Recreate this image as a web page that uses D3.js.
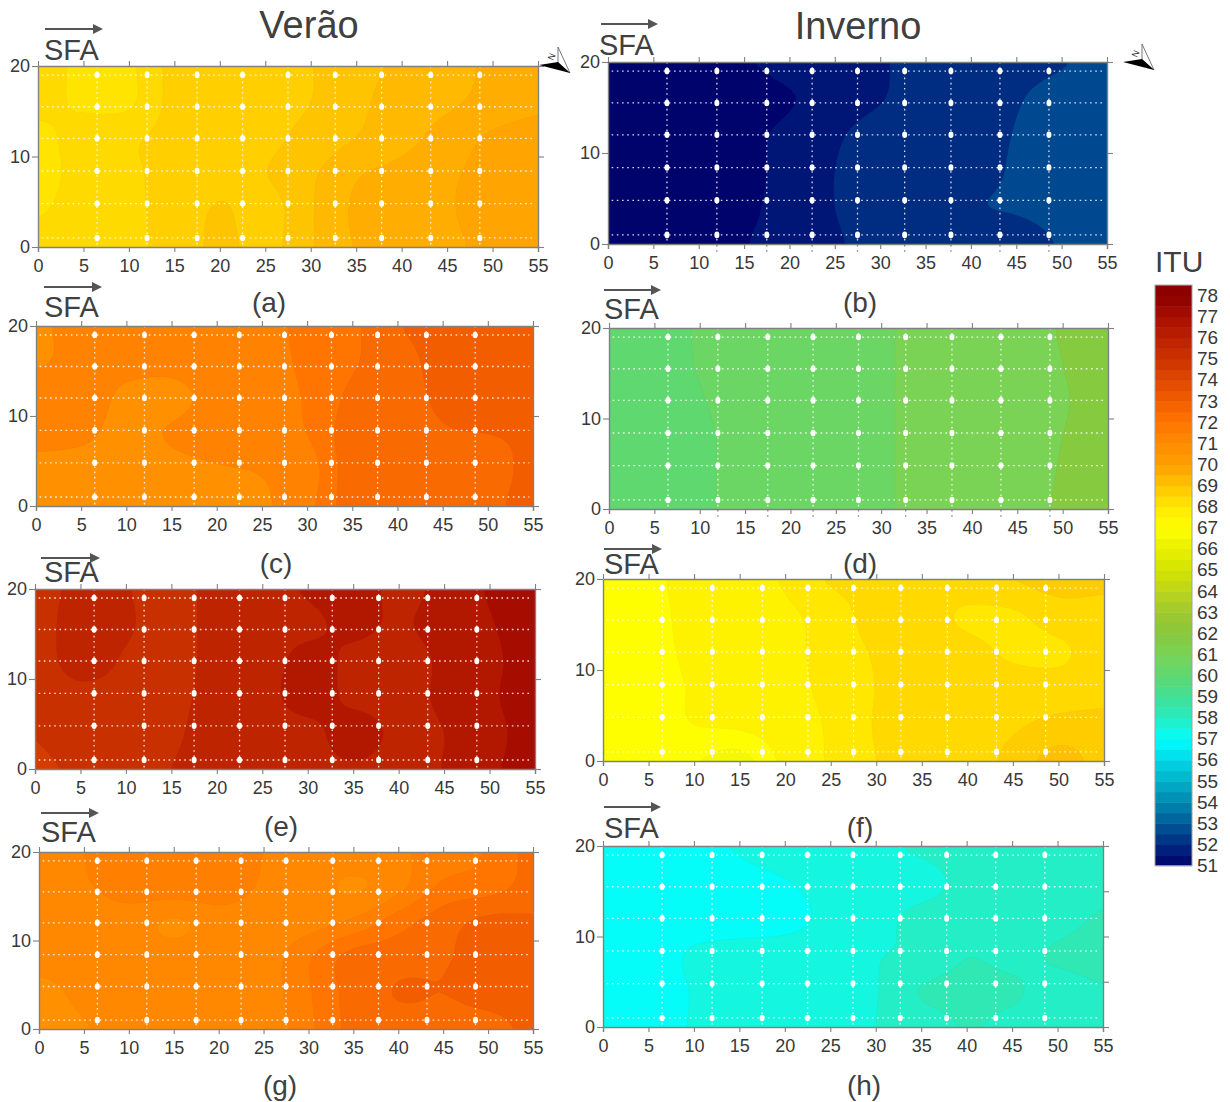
<!DOCTYPE html>
<html><head><meta charset="utf-8">
<script src="https://cdn.jsdelivr.net/npm/d3@7/dist/d3.min.js"></script>
<style>html,body{margin:0;padding:0;background:#fff}svg{display:block}text{font-family:"Liberation Sans",Arial,sans-serif}</style>
</head><body><script>
// ---------- data (ITU; rows run y = 20,16,12,8,4,0; columns x = 0,5,...,55)
const gridX = d3.range(0, 56, 5);
const gridY = [20, 16, 12, 8, 4, 0];
const stationX = [6.5, 12, 17.5, 22.5, 27.5, 32.7, 37.8, 43.2, 48.6];
const stationY = [1, 4.8, 8.4, 12, 15.5, 19];
const xTicks = d3.range(0, 56, 5);
const yTicks = [0, 10, 20];
const legendValues = d3.range(51, 79);

const itu_a = [
[68.35,68.2,68.2,68.65,68.7,68.76,68.84,69.06,69.2,69.35,69.5,69.6],
[68.35,68.2,68.2,68.65,68.7,68.76,68.85,69.08,69.28,69.4,69.55,69.68],
[68.15,68.4,68.5,68.65,68.7,68.78,68.95,69.16,69.35,69.58,69.8,69.88],
[68.1,68.4,68.5,68.65,68.75,68.84,69.1,69.42,69.55,69.7,69.85,69.9],
[68.22,68.42,68.5,68.65,68.88,68.72,69.12,69.5,69.62,69.72,69.88,69.92],
[68.4,68.44,68.5,68.65,68.92,68.75,69.12,69.47,69.62,69.68,69.85,69.92]];
const levels_a = [68.25,68.55,68.85,69.15,69.45,69.75];

const itu_b = [
[51,51.02,51.05,51.25,51.45,51.55,51.7,51.95,52.05,52.15,52.3,52.7],
[51,51.02,51.05,51.1,51.27,51.5,51.72,52,52.1,52.3,52.6,52.75],
[51,51.02,51.05,51.2,51.4,51.68,51.95,52.05,52.1,52.38,52.65,52.75],
[51,51.02,51.05,51.2,51.42,51.75,52,52.05,52.15,52.42,52.65,52.75],
[51,51.02,51.05,51.22,51.45,51.75,51.95,52.05,52.3,52.4,52.55,52.7],
[51,51.02,51.05,51.28,51.45,51.7,51.9,52,52.05,52.1,52.4,52.65]];
const levels_b = [51.3,51.75,52.35];

const itu_c = [
[71,71.3,71.35,71.4,71.45,71.55,71.9,72.1,72.7,73,73.05,73],
[71.05,71.25,71.25,71.25,71.4,71.55,71.85,72.15,72.5,72.95,73,72.95],
[71.4,71.35,71,70.95,71.3,71.5,71.8,72.3,72.5,72.85,72.95,72.85],
[71.3,71.2,70.95,71.15,71.4,71.55,71.75,72.45,72.5,72.7,72.75,72.8],
[70.9,70.9,70.85,70.95,71.05,71.15,71.5,72.45,72.45,72.55,72.6,72.85],
[70.85,70.85,70.85,70.9,70.95,71,71.6,72.45,72.45,72.55,72.65,72.9]];
const levels_c = [71.1,71.75,72.2,72.75];

const itu_d = [
[60,60.1,60.28,60.38,60.5,60.6,60.72,60.82,60.95,61.15,61.55,61.75],
[60,60.1,60.27,60.38,60.5,60.6,60.72,60.82,60.95,61.15,61.5,61.75],
[60,60.1,60.23,60.38,60.5,60.6,60.72,60.82,60.95,61.15,61.45,61.75],
[60,60.1,60.2,60.35,60.5,60.6,60.72,60.82,60.95,61.15,61.5,61.75],
[60,60.1,60.2,60.35,60.5,60.6,60.72,60.82,60.95,61.15,61.55,61.75],
[60,60.1,60.2,60.35,60.5,60.6,60.72,60.82,60.95,61.15,61.6,61.75]];
const levels_d = [60.25,60.75,61.5];

const itu_e = [
[75.2,75.6,75.47,75.3,75.6,75.85,76.15,76.3,76,76.25,76.8,77],
[75.2,75.7,75.5,75.3,75.6,75.85,76,76.2,76.05,76.3,76.7,77.05],
[75.2,75.65,75.4,75.3,75.6,75.85,76.25,76,75.9,76.2,76.6,77.05],
[75.15,75.3,75.3,75.35,75.6,75.9,76.3,76,75.95,76.2,76.65,77.05],
[74.9,75.25,75.3,75.4,75.6,75.85,75.95,76.3,76,76.1,76.55,77],
[74.7,75,75.25,75.45,75.55,75.9,75.95,76.05,75.95,76.12,76.65,76.95]];
const levels_e = [74.85,75.45,76.1,76.75];

const itu_f = [
[67,67.2,67.45,67.6,67.85,68.3,68.4,68.4,68.45,68.6,68.75,68.7],
[67,67.15,67.45,67.6,67.72,68,68.45,68.4,68.2,68.2,68.42,68.45],
[67,67.15,67.4,67.6,67.7,67.95,68.3,68.4,68.35,68.2,68.2,68.4],
[67,67.1,67.35,67.6,67.7,67.9,68.26,68.38,68.4,68.4,68.4,68.45],
[67.05,67.1,67.3,67.4,67.65,67.85,68.28,68.4,68.45,68.55,68.7,68.72],
[67.05,67.1,66.85,66.6,67.45,67.85,68.25,68.4,68.45,68.7,69.1,68.8]];
const levels_f = [66.8,67.3,67.8,68.25,68.6,68.95];

const itu_g = [
[71.1,71.35,71.5,71.55,71.55,71.35,71.3,71.2,71.3,71.5,71.8,72.35],
[71.1,71.3,71.5,71.55,71.55,71.3,71.15,70.9,71.25,71.85,72,72.4],
[71.05,71.1,71.15,70.9,71.15,71.15,71.2,71.45,72,72.5,72.9,72.85],
[71.1,71.1,71.1,71.12,71.15,71.15,71.7,72.4,72.55,72.7,72.95,72.95],
[70.8,71.05,71.1,71.12,71.15,71.15,71.7,72.4,72.78,72.75,72.9,72.95],
[70.7,70.92,71.1,71.1,71.15,71.05,71.65,72.35,72.5,72.55,72.6,72.85]];
const levels_g = [70.95,71.35,71.75,72.2,72.75];

const itu_h = [
[57.05,57.05,57.1,57.35,57.5,57.5,57.62,57.75,57.85,57.9,57.95,57.98],
[57.05,57.05,57.1,57.15,57.28,57.45,57.55,57.6,57.78,57.85,57.9,57.95],
[57.05,57.05,57.1,57.1,57.15,57.42,57.6,57.78,57.85,57.9,57.95,58.15],
[57.05,57.1,57.35,57.45,57.5,57.55,57.68,57.78,58.08,58,58.15,58.3],
[57.05,57.1,57.32,57.45,57.5,57.55,57.68,58.12,58.2,58.15,57.95,58.05],
[57.05,57.1,57.33,57.45,57.5,57.55,57.7,57.9,58.12,58,57.95,57.98]];
const levels_h = [57.3,57.7,58.1];

// colour ramp
const rampValues = [51,52,53,54,55,56,57,58,59,60,61,62,63,64,65,66,67,68,69,70,71,72,73,74,75,76,77,78];
const rampColors = ["#00006a","#002a80","#005a98","#0088b0","#00b0c8","#00d8e8","#00ffff","#28ecc0","#40e098","#60d870",
  "#78d458","#88c83c","#a0c830","#bcd41c","#d4e400","#e8f000","#ffff00","#ffe800","#ffc400","#ffa000","#ff8c00","#ff7400",
  "#f25e00","#e04800","#cc3300","#ba2000","#a80e00","#8c0000"];
const color = d3.scaleLinear().domain(rampValues).range(rampColors);

// ---------- layout
const W = 1230, H = 1102;
const panels = [
 {v:itu_a,l:levels_a,name:"(a)",r:[38,538,66,247],lab:[269,302],sfa:[44,60],arr:[45,103,29],north:[0,0]},
 {v:itu_b,l:levels_b,name:"(b)",r:[608,1107,62,244],lab:[860,302],sfa:[599,55],arr:[601,658,24],north:[584,-3],stem:1},
 {v:itu_c,l:levels_c,name:"(c)",r:[36,533,326,506],lab:[276,563],sfa:[44,317],arr:[44,102,287]},
 {v:itu_d,l:levels_d,name:"(d)",r:[609,1108,328,509],lab:[860,563],sfa:[604,319],arr:[604,661,290],stem:1},
 {v:itu_e,l:levels_e,name:"(e)",r:[35,535,589,769],lab:[281,826],sfa:[44,582],arr:[41,100,558]},
 {v:itu_f,l:levels_f,name:"(f)",r:[603,1104,579,761],lab:[860,827],sfa:[604,574],arr:[604,662,549]},
 {v:itu_g,l:levels_g,name:"(g)",r:[39,533,852,1029],lab:[280,1085],sfa:[41,842],arr:[41,99,813]},
 {v:itu_h,l:levels_h,name:"(h)",r:[603,1103,846,1027],lab:[864,1085],sfa:[604,838],arr:[604,661,807],extraRight:[5,15]}
];
const TXT = "#383838", AX = "#808080";

const svg = d3.select("body").append("svg").attr("width",W).attr("height",H).attr("viewBox",`0 0 ${W} ${H}`);
const defs = svg.append("defs");

// smooth rendering of the read grid (Catmull-Rom through the read values)
function cr(arr, t){
  const n = arr.length, i = Math.min(Math.floor(t), n-2), f = t-i;
  const p0 = arr[Math.max(i-1,0)], p1 = arr[i], p2 = arr[i+1], p3 = arr[Math.min(i+2,n-1)];
  return 0.5*((2*p1)+(-p0+p2)*f+(2*p0-5*p1+4*p2-p3)*f*f+(-p0+3*p1-3*p2+p3)*f*f*f);
}
const K = 10;
function refine(v){
  const rows = v.length, cols = v[0].length;
  const fx = v.map(r => d3.range((cols-1)*K+1).map(i => cr(r,i/K)));
  const nx = fx[0].length, ny = (rows-1)*K+1, out = new Array(nx*ny);
  for(let i=0;i<nx;i++){
    const col = fx.map(r=>r[i]);
    for(let j=0;j<ny;j++) out[j*nx+i] = cr(col,j/K);
  }
  return {out,nx,ny};
}

panels.forEach((p,idx)=>{
  const [x0,x1,y0,y1] = p.r;
  const x = d3.scaleLinear().domain([0,55]).range([x0,x1]);
  const y = d3.scaleLinear().domain([0,20]).range([y1,y0]);
  const g = svg.append("g");
  const cid = "clip"+idx;
  defs.append("clipPath").attr("id",cid).append("rect").attr("x",x0).attr("y",y0).attr("width",x1-x0).attr("height",y1-y0);

  const mids = [p.l[0]-(p.l[1]-p.l[0])/2];
  p.l.forEach((t,i)=>{ mids.push(i<p.l.length-1 ? (t+p.l[i+1])/2 : t+(t-p.l[i-1])/2); });

  const field = g.append("g").attr("clip-path",`url(#${cid})`);
  field.append("rect").attr("x",x0).attr("y",y0).attr("width",x1-x0).attr("height",y1-y0).attr("fill",color(mids[0]));
  const {out,nx,ny} = refine(p.v);
  const conts = d3.contours().size([nx,ny]).smooth(true).thresholds(p.l)(out);
  const dxg = (gridX[1]-gridX[0])/K, dyg = (gridY[0]-gridY[1])/K;
  const path = d3.geoPath(d3.geoTransform({point(a,b){ this.stream.point(x((a-0.5)*dxg), y(20-(b-0.5)*dyg)); }}));
  field.selectAll("path").data(conts).join("path").attr("d",path)
    .attr("fill",(d,i)=>color(mids[i+1]))
    .attr("stroke","#000").attr("stroke-opacity",0.05).attr("stroke-width",0.6);

  // dotted survey lines
  const dots = g.append("g").attr("stroke","#fff").attr("stroke-width",1.3).attr("stroke-dasharray","1.6 3.6").attr("stroke-opacity",0.85);
  dots.selectAll("line.h").data(stationY).join("line").attr("class","h")
    .attr("x1",x(0.4)).attr("x2",x(54.6)).attr("y1",d=>y(d)).attr("y2",d=>y(d));
  dots.selectAll("line.v").data(stationX).join("line").attr("class","v")
    .attr("x1",d=>x(d)).attr("x2",d=>x(d)).attr("y1",y(20)).attr("y2",y(0));
  if(p.stem){
    g.append("g").attr("stroke",AX).attr("stroke-width",1.3).attr("stroke-dasharray","1.6 3.6")
      .selectAll("line").data(stationX.slice(1)).join("line")
      .attr("x1",d=>x(d)).attr("x2",d=>x(d)).attr("y1",y(0)+1).attr("y2",y(0)+9);
  }
  // stations
  const pts = d3.cross(stationX,stationY);
  g.append("g").selectAll("ellipse").data(pts).join("ellipse")
    .attr("cx",d=>x(d[0])).attr("cy",d=>y(d[1])).attr("rx",2.5).attr("ry",3.3).attr("fill","#fff");

  // axes
  const styleAxis = s => { s.selectAll("path").attr("stroke",AX).attr("stroke-width",1.4);
    s.selectAll("line").attr("stroke",AX).attr("stroke-width",1.1);
    s.selectAll("text").attr("fill",TXT).attr("font-size",18).attr("font-family",'"Liberation Sans",Arial,sans-serif'); };
  g.append("g").attr("transform",`translate(0,${y1})`).call(d3.axisBottom(x).tickValues(xTicks).tickSize(5).tickSizeOuter(5).tickPadding(7)).call(styleAxis);
  g.append("g").attr("transform",`translate(0,${y0})`).call(d3.axisTop(x).tickValues(xTicks).tickSize(5).tickSizeOuter(0).tickFormat("")).call(styleAxis);
  g.append("g").attr("transform",`translate(${x0},0)`).call(d3.axisLeft(y).tickValues(yTicks).tickSize(6).tickSizeOuter(0).tickPadding(2)).call(styleAxis);
  g.append("g").attr("transform",`translate(${x1},0)`).call(d3.axisRight(y).tickValues(yTicks.concat(p.extraRight||[])).tickSize(6).tickSizeOuter(0).tickFormat("")).call(styleAxis);

  // SFA
  const [ax0,ax1,ay] = p.arr;
  g.append("line").attr("x1",ax0).attr("x2",ax1-7).attr("y1",ay).attr("y2",ay).attr("stroke","#555").attr("stroke-width",1.8);
  g.append("path").attr("d",`M${ax1},${ay}L${ax1-10},${ay-5}L${ax1-10},${ay+5}Z`).attr("fill","#555");
  g.append("text").attr("x",p.sfa[0]).attr("y",p.sfa[1]).attr("font-size",29).attr("fill","#404040").text("SFA");
  g.append("text").attr("x",p.lab[0]).attr("y",p.lab[1]+10).attr("text-anchor","middle").attr("font-size",28).attr("fill","#404040").text(p.name);

  // north arrow
  if(p.north){
    const n = g.append("g").attr("transform",`translate(${p.north[0]},${p.north[1]})`);
    n.append("path").attr("d","M558,47L570,73L558,63Z").attr("fill","#fff").attr("stroke","#555").attr("stroke-width",0.8);
    n.append("path").attr("d","M539,65L570,73L558,62Z").attr("fill","#000");
    n.append("text").attr("transform","translate(553,61) rotate(-65)").attr("font-size",9).attr("fill","#333").text("N");
  }
});

// titles
svg.append("text").attr("x",309).attr("y",38).attr("text-anchor","middle").attr("font-size",38).attr("fill","#404040").text("Verão");
svg.append("text").attr("x",858).attr("y",39).attr("text-anchor","middle").attr("font-size",38).attr("fill","#404040").text("Inverno");

// legend
const ly = d3.scaleLinear().domain([51,78]).range([865,295]);
const leg = svg.append("g");
const bands = d3.range(51,78.5,0.5);
leg.selectAll("rect.b").data(bands).join("rect").attr("class","b")
  .attr("x",1155).attr("width",37)
  .attr("y",d=>ly(d+0.47)).attr("height",d=>ly(d-0.03)-ly(d+0.47)+0.5)
  .attr("fill",d=>color(Math.min(d+0.25,78)));
leg.append("rect").attr("x",1155).attr("width",37).attr("y",ly(78.47)).attr("height",ly(50.97)-ly(78.47))
  .attr("fill","none").attr("stroke","#a0a0a0").attr("stroke-width",1);
leg.selectAll("text").data(legendValues).join("text")
  .attr("x",1197).attr("y",d=>ly(d)+7).attr("font-size",19).attr("fill",TXT).text(d=>d);
svg.append("text").attr("x",1155).attr("y",272).attr("font-size",30).attr("fill","#404040").text("ITU");
</script></body></html>
